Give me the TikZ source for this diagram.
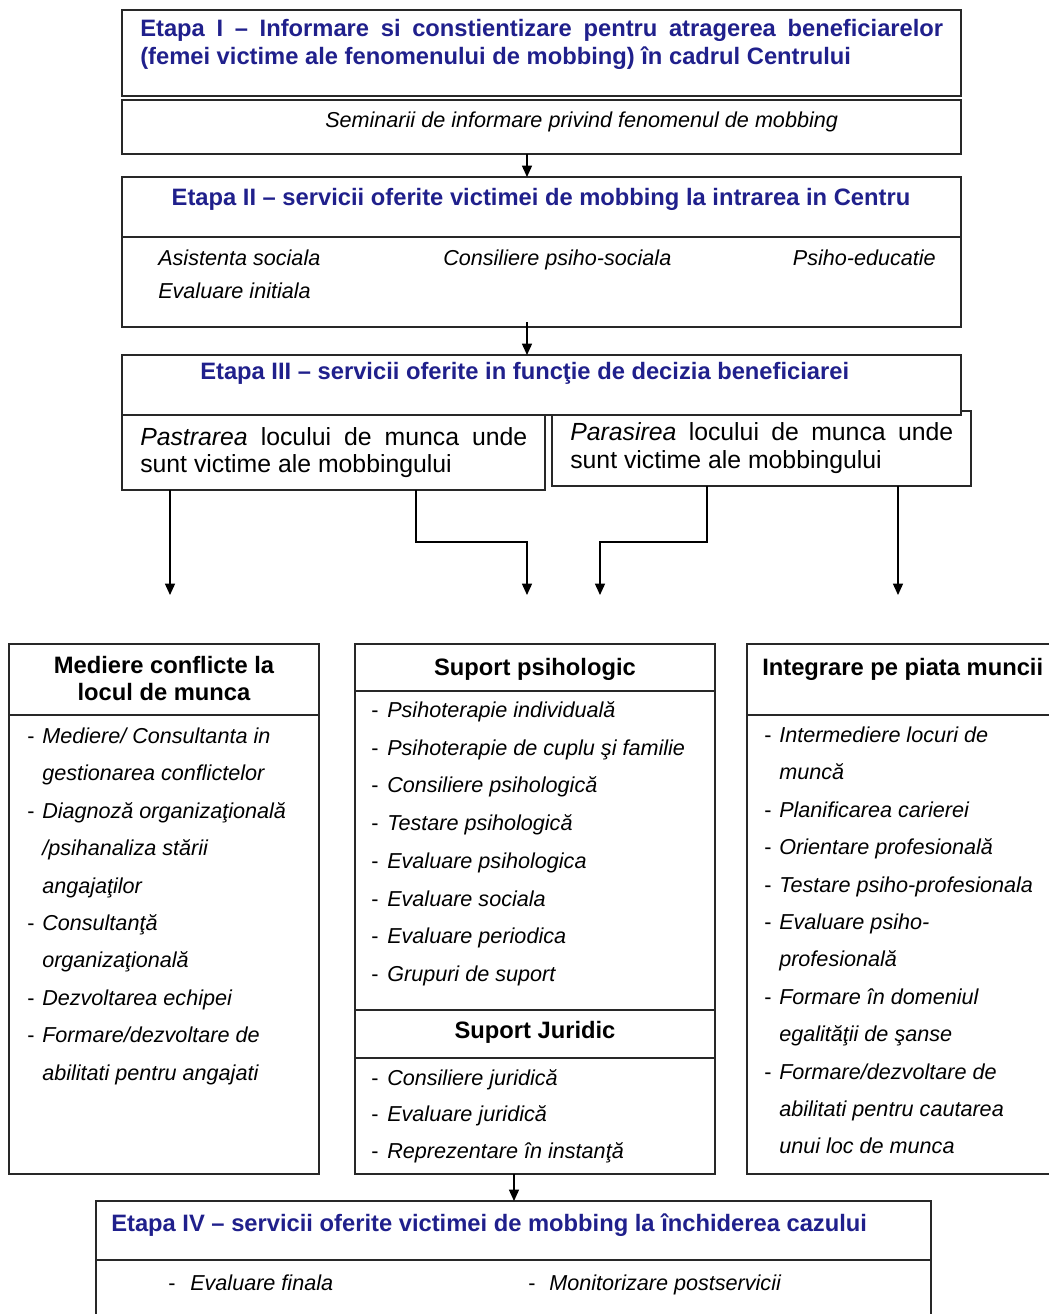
\documentclass[tikz,border=0pt]{standalone}
\usepackage{fontspec}
\setmainfont{Liberation Sans}
\usetikzlibrary{arrows.meta}
\definecolor{titleblue}{RGB}{32,32,140}
\definecolor{lineclr}{RGB}{40,40,40}
\newcommand\bx[6][]{\node[boxst,#1, minimum width={(#5-#3)*0.75pt}, minimum height={(#6-#4)*0.75pt}] (#2) at (#3,#4) {};}
\begin{document}
\begin{tikzpicture}[x=0.75pt,y=-0.75pt,
  boxst/.style={draw=lineclr, line width=1.4pt, inner sep=0pt, outer sep=0pt, anchor=north west, fill=white},
  divline/.style={draw=lineclr, line width=1.4pt},
  txt/.style={inner sep=0pt, anchor=base west},
  ttl/.style={txt, font=\fontsize{17.8}{21}\selectfont\bfseries, text=titleblue},
  hd/.style={inner sep=0pt, anchor=base, font=\fontsize{17.8}{21}\selectfont\bfseries},
  itm/.style={txt, font=\fontsize{16.2}{19}\selectfont\itshape},
  dsh/.style={txt, font=\fontsize{16.2}{19}\selectfont},
  opt/.style={txt, font=\fontsize{18.6}{21}\selectfont},
  arr/.style={line width=1pt, -{Triangle[width=7.5pt,length=8.5pt]}}
]
\useasboundingbox (0,0) rectangle (1049,1314);
\fill[white] (0,0) rectangle (1049,1314);
\clip (0,0) rectangle (1049,1314);

% ---------- Etapa I ----------
\bx{b1}{122}{10}{961}{96}
\node[ttl] (t1a) at (140,36) {\makebox[602.25pt][s]{Etapa I – Informare si constientizare pentru atragerea beneficiarelor}};
\node[ttl] (t1b) at (140,64) {(femei victime ale fenomenului de mobbing) în cadrul Centrului};
\bx{b2}{122}{100}{961}{154}
\node[itm] (sem) at (325,127) {Seminarii de informare privind fenomenul de mobbing};

% ---------- Etapa II ----------
\bx{b3}{122}{177}{961}{327}
\draw[divline] (122,237) -- (961,237);
\node[ttl, anchor=base] (t2) at (541,205) {Etapa II – servicii oferite victimei de mobbing la intrarea in Centru};
\node[itm] (s2a) at (158,265) {Asistenta sociala};
\node[itm] (s2b) at (443,265) {Consiliere psiho-sociala};
\node[itm, anchor=base east] (s2c) at (936,265) {Psiho-educatie};
\node[itm] (s2d) at (158,298) {Evaluare initiala};

% ---------- Etapa III ----------
\bx{b6}{552}{411}{971}{486}
\bx{b4}{122}{355}{961}{415}
\node[ttl] (t3) at (200,379) {Etapa III – servicii oferite in funcţie de decizia beneficiarei};
\bx{b5}{122}{415}{545}{490}
\node[opt] (p1) at (140,445) {\makebox[290.25pt][s]{\textit{Pastrarea} locului de munca unde}};
\node[opt] (p2) at (140,472) {sunt victime ale mobbingului};
\node[opt] (q1) at (570,440) {\makebox[287.25pt][s]{\textit{Parasirea} locului de munca unde}};
\node[opt] (q2) at (570,468) {sunt victime ale mobbingului};

% ---------- connectors ----------
\coordinate (x527) at (527,0);
\coordinate (x514) at (514,0);
\coordinate (x170) at (170,0);
\coordinate (x416) at (416,0);
\coordinate (x707) at (707,0);
\coordinate (x898) at (898,0);
\coordinate (j1) at (527,542);
\coordinate (j2) at (600,542);
\coordinate (e1) at (170,595);
\coordinate (e2) at (527,595);
\coordinate (e3) at (600,595);
\coordinate (e4) at (898,595);
\draw[arr] (b2.south -| x527) -- (b3.north -| x527);
\draw[arr] ([yshift=3.5pt]b3.south -| x527) -- (b4.north -| x527);
\draw[arr] (b5.south -| x170) -- (e1);
\draw[arr] (b5.south -| x416) |- (j1) -- (e2);
\draw[arr] (b6.south -| x707) |- (j2) -- (e3);
\draw[arr] (b6.south -| x898) -- (e4);

% ---------- Mediere ----------
\bx{b7}{9}{644}{319}{1174}
\draw[divline] (9,715) -- (319,715);
\node[hd] (h7a) at (164,673) {Mediere conflicte la};
\node[hd] (h7b) at (164,700) {locul de munca};
\foreach \d/\t [count=\i from 0] in {
  1/{Mediere/ Consultanta in},
  0/{gestionarea conflictelor},
  1/{Diagnoză organizaţională},
  0/{/psihanaliza stării},
  0/{angajaţilor},
  1/{Consultanţă},
  0/{organizaţională},
  1/{Dezvoltarea echipei},
  1/{Formare/dezvoltare de},
  0/{abilitati pentru angajati}} {
  \node[itm] (m\i) at (42,{743.5+37.4*\i}) {\t};
  \ifnum\d=1 \node[dsh] (md\i) at (27,{743.5+37.4*\i}) {-}; \fi
}

% ---------- Suport psihologic / juridic ----------
\bx{b8}{355}{644}{715}{1174}
\draw[divline] (355,691) -- (715,691);
\draw[divline] (355,1010) -- (715,1010);
\draw[divline] (355,1058) -- (715,1058);
\node[hd] (h8a) at (535,675) {Suport psihologic};
\node[hd] (h8b) at (535,1038) {Suport Juridic};
\foreach \t [count=\i from 0] in {
  {Psihoterapie individuală},
  {Psihoterapie de cuplu şi familie},
  {Consiliere psihologică},
  {Testare psihologică},
  {Evaluare psihologica},
  {Evaluare sociala},
  {Evaluare periodica},
  {Grupuri de suport}} {
  \node[itm] (s\i) at (387,{717.5+37.7*\i}) {\t};
  \node[dsh] (sd\i) at (371,{717.5+37.7*\i}) {-};
}
\foreach \t [count=\i from 0] in {
  {Consiliere juridică},
  {Evaluare juridică},
  {Reprezentare în instanţă}} {
  \node[itm] (j\i) at (387,{1085+36.8*\i}) {\t};
  \node[dsh] (jd\i) at (371,{1085+36.8*\i}) {-};
}

% ---------- Integrare ----------
\bx{b9}{747}{644}{1075}{1174}
\draw[divline] (747,715) -- (1075,715);
\node[txt, font=\fontsize{17.8}{21}\selectfont\bfseries] (h9) at (762,675) {Integrare pe piata muncii};
\foreach \d/\t [count=\i from 0] in {
  1/{Intermediere locuri de},
  0/{muncă},
  1/{Planificarea carierei},
  1/{Orientare profesională},
  1/{Testare psiho-profesionala},
  1/{Evaluare psiho-},
  0/{profesională},
  1/{Formare în domeniul},
  0/{egalităţii de şanse},
  1/{Formare/dezvoltare de},
  0/{abilitati pentru cautarea},
  0/{unui loc de munca}} {
  \node[itm] (r\i) at (779,{742.5+37.4*\i}) {\t};
  \ifnum\d=1 \node[dsh] (rd\i) at (764,{742.5+37.4*\i}) {-}; \fi
}

% ---------- Etapa IV ----------
\bx{b10}{96}{1201}{931}{1340}
\draw[divline] (96,1260) -- (931,1260);
\draw[arr] (b8.south -| x514) -- (b10.north -| x514);
\node[ttl] (t4) at (111,1231) {Etapa IV – servicii oferite victimei de mobbing la închiderea cazului};
\node[dsh] (f0) at (168,1290) {-};
\node[itm] (f1) at (190,1290) {Evaluare finala};
\node[dsh] (g0) at (528,1290) {-};
\node[itm] (g1) at (549,1290) {Monitorizare postservicii};
\end{tikzpicture}
\end{document}
